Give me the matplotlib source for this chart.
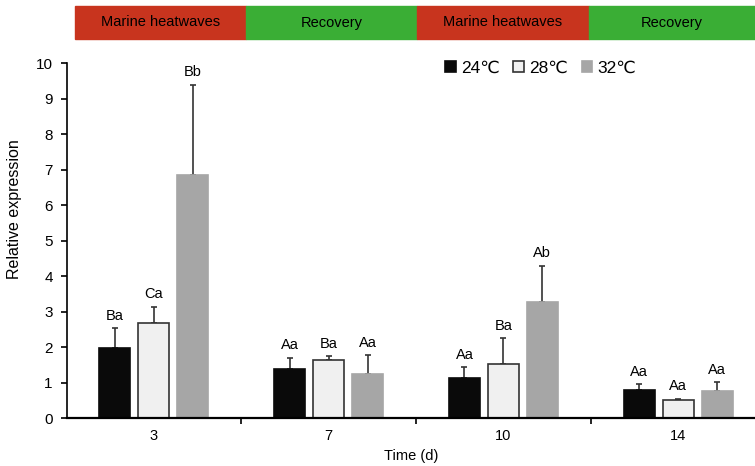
import matplotlib.pyplot as plt
import numpy as np

plt.rcParams['font.family'] = ['Liberation Sans', 'DejaVu Sans']

# data
days = ['3', '7', '10', '14']
temps = ['24℃', '28℃', '32℃']
mean_24 = [1.97, 1.38, 1.13, 0.79]
mean_28 = [2.67, 1.64, 1.54, 0.51]
mean_32 = [6.84, 1.26, 3.27, 0.76]
sd_24 = [0.57, 0.32, 0.31, 0.17]
sd_28 = [0.47, 0.11, 0.71, 0.04]
sd_32 = [2.56, 0.52, 1.03, 0.26]
let_24 = ['Ba', 'Aa', 'Aa', 'Aa']
let_28 = ['Ca', 'Ba', 'Ba', 'Aa']
let_32 = ['Bb', 'Aa', 'Ab', 'Aa']
phases = ['Marine heatwaves', 'Recovery', 'Marine heatwaves', 'Recovery']

fig = plt.figure(figsize=(7.55, 4.66), dpi=100)
ax = fig.add_axes([0.0881, 0.1024, 0.912, 0.7618])

x = np.arange(len(days))
w = 0.177
off = 0.223
styles = [
    dict(color='#0a0a0a', edgecolor='#0a0a0a'),
    dict(color='#f0f0f0', edgecolor='#333333'),
    dict(color='#a6a6a6', edgecolor='#a6a6a6'),
]
series = [(mean_24, sd_24, let_24), (mean_28, sd_28, let_28), (mean_32, sd_32, let_32)]

handles = []
for k, (m, s, lab) in enumerate(series):
    pos = x + (k - 1) * off
    b = ax.bar(pos, m, w, linewidth=1.2, label=temps[k], zorder=2, **styles[k])
    handles.append(b)
    ax.errorbar(pos, m, yerr=[np.zeros(len(m)), s], fmt='none', ecolor='#333333',
                elinewidth=1.2, capsize=2.5, capthick=1.2, zorder=1)
    for xi, mi, si, t in zip(pos, m, s, lab):
        ax.annotate(t, (xi, mi + si), xytext=(0, 4), textcoords='offset points',
                    ha='center', va='bottom', fontsize=10.5)

ax.set_xlim(-0.5, 3.44)
ax.set_ylim(0, 10)
ax.set_yticks(range(0, 11))
ax.set_xticks([0.5, 1.5, 2.5])
ax.set_xticklabels([])
ax.set_xticks(x, minor=True)
ax.set_xticklabels(days, minor=True)
ax.tick_params(axis='x', which='minor', length=0, pad=8, labelsize=10.5)
ax.tick_params(axis='x', which='major', length=4, width=1.2, direction='out')
ax.tick_params(axis='y', length=4, width=1.2, direction='out', labelsize=11, pad=6)
for sp in ['top', 'right']:
    ax.spines[sp].set_visible(False)
ax.spines['left'].set_linewidth(1.2)
ax.spines['bottom'].set_linewidth(1.6)
ax.set_xlabel('Time (d)', fontsize=10.5, labelpad=4)
ax.set_ylabel('Relative expression', fontsize=11.5)
ax.yaxis.set_label_coords(-0.064, 0.59)

ax.legend(handles=handles, labels=temps, ncol=3, frameon=False, fontsize=12.5,
          loc='center', bbox_to_anchor=(0.716, 0.853), bbox_transform=fig.transFigure,
          handlelength=0.6, handleheight=0.6, handletextpad=0.3, columnspacing=0.8)

# phase band on top
edges = [75, 246, 417, 589, 755]
band_colors = ['#c8341e', '#3aae35', '#c8341e', '#3aae35']
for i, p in enumerate(phases):
    x0 = edges[i] / 755
    x1 = edges[i + 1] / 755
    fig.patches.append(plt.Rectangle((x0, 1 - 39 / 466), x1 - x0, 33 / 466,
                                     transform=fig.transFigure, color=band_colors[i]))
    fig.text((x0 + x1) / 2, 1 - 22.5 / 466, p, ha='center', va='center', fontsize=10.5)

fig.savefig('out.png', dpi=100)
